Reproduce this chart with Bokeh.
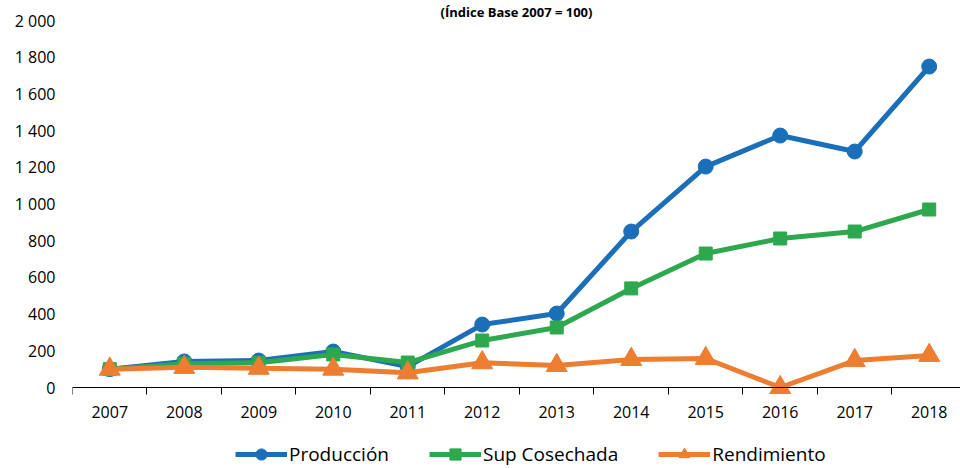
from bokeh.plotting import figure
from bokeh.models import FixedTicker, Legend, LegendItem, Range1d, CustomJSTickFormatter
from bokeh.embed import file_html
from bokeh.resources import INLINE

years = ["2007", "2008", "2009", "2010", "2011", "2012", "2013", "2014", "2015", "2016", "2017", "2018"]
produccion = [100, 142, 147, 196, 114, 343, 403, 850, 1204, 1373, 1286, 1749]
sup_cosechada = [100, 130, 135, 180, 136, 256, 327, 540, 730, 812, 850, 970]
rendimiento = [100, 110, 105, 100, 80, 135, 120, 153, 158, 0, 147, 175]
y_ticks = [0, 200, 400, 600, 800, 1000, 1200, 1400, 1600, 1800, 2000]
title_text = "(Índice Base 2007 = 100)"

FONT = "Open Sans"
BLUE = "#1B6FB8"
GREEN = "#2EA84E"
ORANGE = "#ED7D31"

n = len(years)
xs = [i + 0.5 for i in range(n)]

# frame spans from y=20 to y=468; value 0 sits at y=387, 2000 at y=20
# the last category runs slightly past the right edge, as in the reference
p = figure(width=960, height=468, output_backend="svg", toolbar_location=None,
           x_range=Range1d(0, n - 0.08), y_range=Range1d(-441.4, 2000),
           min_border_left=72, min_border_right=0, min_border_top=0, min_border_bottom=0,
           outline_line_color=None)
p.title.text = title_text
p.title.text_font = FONT
p.title.text_font_style = "bold"
p.title.text_font_size = "13px"
p.title.text_color = "#000000"
p.title.align = "center"
p.title.offset = 0
p.title.standoff = 0
p.xgrid.visible = False
p.ygrid.visible = False

# x axis drawn at value 0; labels at centers, ticks at category boundaries
p.xaxis.fixed_location = 0
p.xaxis.ticker = FixedTicker(ticks=xs, minor_ticks=list(range(n + 1)))
p.xaxis.major_label_overrides = {x: y for x, y in zip(xs, years)}
p.xaxis.major_tick_line_color = None
p.xaxis.major_tick_out = 6
p.xaxis.minor_tick_line_color = "#000000"
p.xaxis.minor_tick_out = 7
p.xaxis.minor_tick_in = 0
p.xaxis.axis_line_color = "#000000"
p.xaxis.axis_line_width = 1
p.xaxis.major_label_text_font = FONT
p.xaxis.major_label_text_font_size = "16px"
p.xaxis.major_label_text_color = "#000000"
p.xaxis.major_label_standoff = 11

p.yaxis.ticker = FixedTicker(ticks=y_ticks)
p.yaxis.formatter = CustomJSTickFormatter(code="""
    return tick.toFixed(0).replace(/\\B(?=(\\d{3})+(?!\\d))/g, ' ');
""")
p.yaxis.axis_line_color = None
p.yaxis.major_tick_line_color = None
p.yaxis.major_tick_out = 0
p.yaxis.minor_tick_line_color = None
p.yaxis.major_label_text_font = FONT
p.yaxis.major_label_text_font_size = "16px"
p.yaxis.major_label_text_color = "#000000"
p.yaxis.major_label_standoff = 17

lw = 5
l1 = p.line(xs, produccion, line_color=BLUE, line_width=lw)
m1 = p.scatter(xs, produccion, marker="circle", size=15, fill_color=BLUE, line_color=BLUE)
l2 = p.line(xs, sup_cosechada, line_color=GREEN, line_width=lw)
m2 = p.scatter(xs, sup_cosechada, marker="square", size=13, fill_color=GREEN, line_color=GREEN)
l3 = p.line(xs, rendimiento, line_color=ORANGE, line_width=lw)
m3 = p.scatter(xs, rendimiento, marker="triangle", size=21, fill_color=ORANGE, line_color=ORANGE)

legend = Legend(items=[
    LegendItem(label="Producción", renderers=[l1, m1]),
    LegendItem(label="Sup Cosechada", renderers=[l2, m2]),
    LegendItem(label="Rendimiento", renderers=[l3, m3]),
], orientation="horizontal", location=(163, 0),
    glyph_width=52, glyph_height=28, label_standoff=2, spacing=40,
    label_text_font=FONT, label_text_font_size="19px", label_text_color="#000000",
    border_line_color=None, background_fill_alpha=0, padding=0, margin=0)
p.add_layout(legend, "center")

open("out.html", "w").write(file_html(p, INLINE))
